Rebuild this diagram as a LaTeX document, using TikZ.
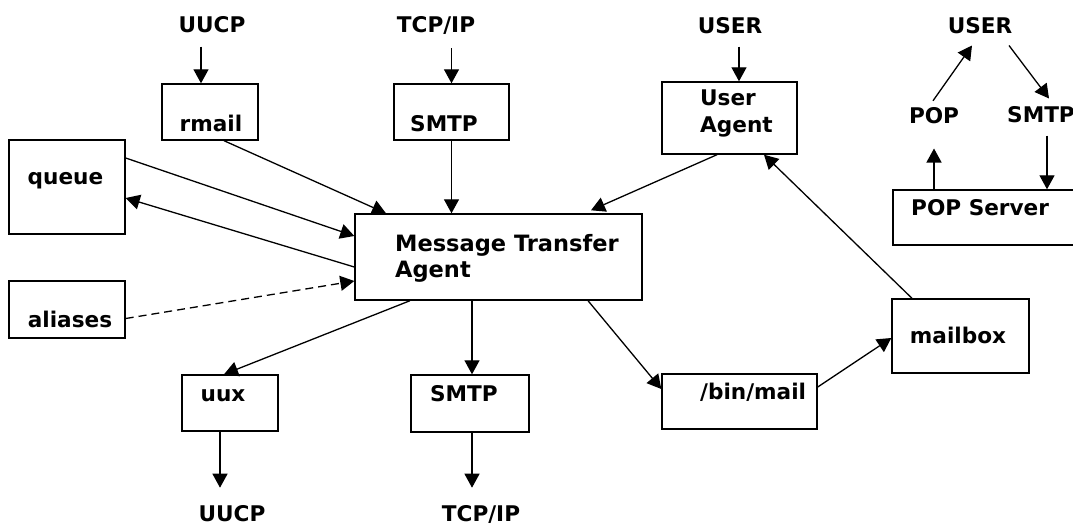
\documentclass[tikz,border=0pt]{standalone}
\usepackage{fontspec}
\setmainfont{DejaVu Sans}
\usetikzlibrary{arrows.meta}

\tikzset{
  box/.style={draw, line width=1.4pt, inner sep=0pt},
  txt/.style={inner sep=0pt, font=\bfseries\fontsize{21.6}{27}\selectfont},
  bigtxt/.style={inner sep=0pt, font=\bfseries\fontsize{22.5}{26}\selectfont},
  arr/.style={-{Triangle[length=14pt,width=15pt]}, line width=1.3pt},
}

\begin{document}
\begin{tikzpicture}[x=1pt, y=-1pt]
  \fill[white] (0,0) rectangle (1073,525);
  \useasboundingbox (0,0) rectangle (1073,525);

  % boxes
  \node[box, minimum width=116pt, minimum height=94pt] (queue) at (67,187) {};
  \node[box, minimum width=96pt, minimum height=56pt] (rmail) at (210,112) {};
  \node[box, minimum width=115pt, minimum height=56pt] (smtpin) at (451.5,112) {};
  \node[box, minimum width=135pt, minimum height=72pt] (ua) at (729.5,118) {};
  \node[box, minimum width=287pt, minimum height=86pt] (mta) at (498.5,257) {};
  \node[box, minimum width=116pt, minimum height=57pt] (aliases) at (67,309.5) {};
  \node[box, minimum width=96pt, minimum height=56pt] (uux) at (230,403) {};
  \node[box, minimum width=118pt, minimum height=57pt] (smtpout) at (470,403.5) {};
  \node[box, minimum width=155pt, minimum height=55pt] (binmail) at (739.5,401.5) {};
  \node[box, minimum width=137pt, minimum height=74pt] (mailbox) at (960.5,336) {};
  \node[box, minimum width=192pt, minimum height=55pt] (popsrv) at (989,217.5) {};

  % box texts
  \node[txt, anchor=base] (queuetxt) at (65.5,184) {queue};
  \node[txt, anchor=base] (rmailtxt) at (211,131) {rmail};
  \node[txt, anchor=base] (smtpintxt) at (444,131) {SMTP};
  \node[txt, anchor=north west, align=left] (uatxt) at (700,90) {User\\Agent};
  \node[bigtxt, anchor=north west, align=left] (mtatxt) at (395,234) {Message Transfer\\Agent};
  \node[txt, anchor=base] (aliasestxt) at (70,327) {aliases};
  \node[txt, anchor=base] (uuxtxt) at (223,401) {uux};
  \node[txt, anchor=base] (smtpouttxt) at (464,401) {SMTP};
  \node[txt, anchor=base west] (binmailtxt) at (700,399) {/bin/mail};
  \node[txt, anchor=base] (mailboxtxt) at (958,343) {mailbox};
  \node[txt, anchor=base west] (popsrvtxt) at (911,215) {POP Server};

  % free labels
  \node[txt, anchor=base] (uucpin) at (212,32) {UUCP};
  \node[txt, anchor=base] (tcpin) at (436,32) {TCP/IP};
  \node[txt, anchor=base] (userin) at (730,33) {USER};
  \node[txt, anchor=base] (user2) at (980,33) {USER};
  \node[txt, anchor=base] (pop) at (934,123) {POP};
  \node[txt, anchor=base west] (smtp2) at (1007,122) {SMTP};
  \node[txt, anchor=base] (uucpout) at (232,521) {UUCP};
  \node[txt, anchor=base] (tcpout) at (481,521) {TCP/IP};

  % incoming
  \draw[arr] ([xshift=-11pt, yshift=-14pt]uucpin.south) -- ([xshift=-9pt]rmail.north);
  \draw[arr] ([yshift=-14pt]smtpin.north |- tcpin.south) -- (smtpin.north);
  \draw[arr] ([xshift=9.5pt, yshift=-13pt]ua.north |- userin.south) -- ([xshift=9.5pt]ua.north);

  % into the transfer agent
  \draw[arr] ([xshift=14pt]rmail.south) -- ([xshift=-112.5pt]mta.north);
  \draw[arr] (smtpin.south) -- (smtpin.south |- mta.north);
  \draw[arr] ([xshift=-12.5pt]ua.south) -- ([xshift=92.5pt, yshift=3pt]mta.north);
  \draw[arr] ([yshift=29pt]queue.east) -- ([yshift=21pt]mta.west);
  \draw[arr] ([yshift=-10pt]mta.west) -- ([yshift=-11pt]queue.east);
  \draw[arr, dash pattern=on 8pt off 5pt] ([yshift=-9pt]aliases.east) -- ([yshift=-24pt]mta.west);

  % out of the transfer agent
  \draw[arr] ([xshift=-88.5pt]mta.south) -- ([xshift=-6pt]uux.north);
  \draw[arr] ([xshift=2pt]smtpout.north |- mta.south) -- ([xshift=2pt]smtpout.north);
  \draw[arr] ([xshift=89.5pt]mta.south) -- ([yshift=12.5pt]binmail.west);
  \draw[arr] ([yshift=14.5pt]binmail.east) -- ([yshift=-2pt]mailbox.west);
  \draw[arr] ([xshift=-48.5pt]mailbox.north) -- ([xshift=34.5pt]ua.south);
  \draw[arr] ([xshift=-10pt]uux.south) -- ([xshift=-10pt, yshift=-56pt]uux.south);
  \draw[arr] ([xshift=2pt]smtpout.south) -- ([xshift=2pt, yshift=-55pt]smtpout.south);

  % pop side
  \draw[arr] (pop.south |- popsrv.north) -- ([yshift=-25pt]pop.south);
  \draw[arr] ([xshift=-1pt, yshift=6pt]pop.north) -- ([xshift=-8pt, yshift=-12pt]user2.south);
  \draw[arr] ([xshift=29pt, yshift=-12pt]user2.south) -- ([xshift=8pt, yshift=24pt]smtp2.south);
  \draw[arr] ([xshift=6pt, yshift=-13pt]smtp2.south) -- ([xshift=6pt]smtp2.south |- popsrv.north);
\end{tikzpicture}
\end{document}
